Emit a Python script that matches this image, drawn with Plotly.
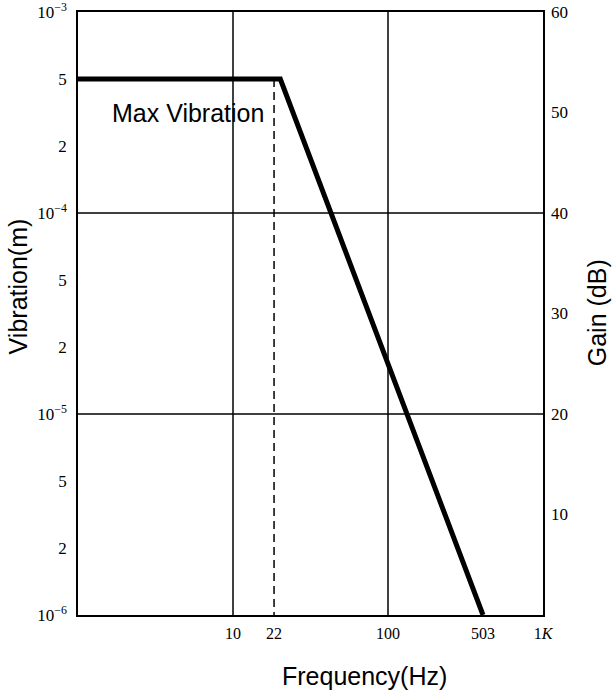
import plotly.graph_objects as go

# ---- data ----
freq_hz = [1, 20.2, 410]                 # frequency points of the max-vibration curve
vibration_m = [4.64e-4, 4.64e-4, 1e-6]   # vibration amplitude (m)
corner_freq = 18.4                       # dashed marker frequency (labelled 22)

x_tick_vals = [10, 18.4, 100, 410, 1000]
x_tick_text = ["10", "22", "100", "503", "1<i>K</i>"]

y_tick_vals = [1e-3, 10**(-3 - 1/3), 10**(-3 - 2/3), 1e-4, 10**(-4 - 1/3), 10**(-4 - 2/3),
               1e-5, 10**(-5 - 1/3), 10**(-5 - 2/3), 1e-6]
y_tick_text = ["10<sup>−3</sup>", "5", "2", "10<sup>−4</sup>", "5", "2",
               "10<sup>−5</sup>", "5", "2", "10<sup>−6</sup>"]

gain_ticks = [10, 20, 30, 40, 50, 60]

grid_x = [10, 100]
grid_y = [1e-4, 1e-5]

x_range = [1, 1000]
y_range = [1e-6, 1e-3]

serif = "Liberation Serif"
sans = "Liberation Sans"

fig = go.Figure()

# grid lines
for gx in grid_x:
    fig.add_trace(go.Scatter(x=[gx, gx], y=y_range, mode="lines",
                             line=dict(color="black", width=1.5),
                             hoverinfo="skip", showlegend=False))
for gy in grid_y:
    fig.add_trace(go.Scatter(x=x_range, y=[gy, gy], mode="lines",
                             line=dict(color="black", width=1.5),
                             hoverinfo="skip", showlegend=False))

# dashed corner marker
fig.add_trace(go.Scatter(x=[corner_freq, corner_freq], y=[vibration_m[1], y_range[0]],
                         mode="lines", line=dict(color="black", width=1.5, dash="8px,5px"),
                         hoverinfo="skip", showlegend=False))

# max vibration curve
fig.add_trace(go.Scatter(x=freq_hz, y=vibration_m, mode="lines",
                         line=dict(color="black", width=5),
                         showlegend=False))

# invisible trace for gain axis
fig.add_trace(go.Scatter(x=[None], y=[None], yaxis="y2", showlegend=False))

fig.update_layout(
    width=613, height=691,
    margin=dict(l=78, r=70, t=12, b=76, autoexpand=False),
    paper_bgcolor="white", plot_bgcolor="white",
    xaxis=dict(type="log", range=[0, 3], tickmode="array",
               tickvals=x_tick_vals, ticktext=x_tick_text,
               showgrid=False, zeroline=False, ticks="", automargin=False,
               ticklabeloverflow="allow",
               showline=True, linecolor="black", linewidth=1.5, mirror=True,
               ticklabelstandoff=3,
               tickfont=dict(family=serif, size=16, color="black")),
    yaxis=dict(type="log", range=[-6, -3], tickmode="array",
               tickvals=y_tick_vals, ticktext=y_tick_text,
               showgrid=False, zeroline=False, ticks="", automargin=False,
               ticklabeloverflow="allow",
               showline=True, linecolor="black", linewidth=1.5, mirror=True,
               ticklabelstandoff=6,
               tickfont=dict(family=serif, size=17, color="black")),
    yaxis2=dict(overlaying="y", side="right", range=[0, 60],
                tickmode="array", tickvals=gain_ticks, automargin=False,
                ticklabeloverflow="allow",
                showgrid=False, zeroline=False, ticks="", showline=False,
                ticklabelstandoff=7,
                tickfont=dict(family=serif, size=17, color="black")),
    annotations=[
        dict(text="Max Vibration", x=0.71, y=-3.5, xref="x", yref="y",
             showarrow=False, xanchor="center", yanchor="middle",
             font=dict(family=sans, size=25, color="black")),
        dict(text="Vibration(m)", x=-0.129, y=0.545, xref="paper", yref="paper",
             textangle=-90, showarrow=False, xanchor="center", yanchor="middle",
             font=dict(family=sans, size=25, color="black")),
        dict(text="Gain (dB)", x=1.116, y=0.502, xref="paper", yref="paper",
             textangle=-90, showarrow=False, xanchor="center", yanchor="middle",
             font=dict(family=sans, size=25, color="black")),
        dict(text="Frequency(Hz)", x=0.617, y=-0.101, xref="paper", yref="paper",
             showarrow=False, xanchor="center", yanchor="middle",
             font=dict(family=sans, size=25, color="black")),
    ],
)

fig.write_html("out.html")
